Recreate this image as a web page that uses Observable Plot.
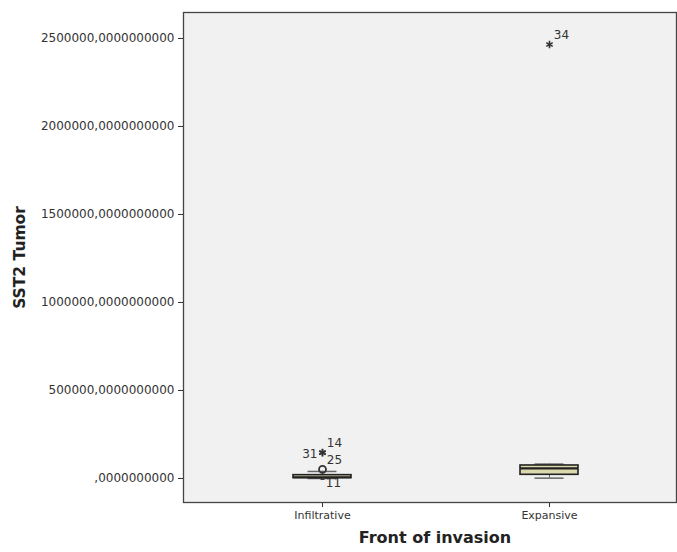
<!DOCTYPE html>
<html>
<head>
<meta charset="utf-8">
<script src="https://cdn.jsdelivr.net/npm/d3@7"></script>
<script src="https://cdn.jsdelivr.net/npm/@observablehq/plot@0.6"></script>
<style>
  html, body { margin: 0; padding: 0; background: #fff; overflow: hidden; }
</style>
</head>
<body>
<div id="chart"></div>
<script>
// Box plot of SST2 tumour levels by front of invasion
const groups = ["Infiltrative", "Expansive"];
const lowerWhisker = [0, 2000];
const q1 = [2000, 21000];
const median = [7000, 58000];
const q3 = [19000, 74000];
const upperWhisker = [40000, 82000];

// Outlying cases (circle = outlier, star = extreme)
const outlierCase = ["11", "25", "14", "31", "34"];
const outlierGroup = ["Infiltrative", "Infiltrative", "Infiltrative", "Infiltrative", "Expansive"];
const outlierValue = [9000, 52000, 148000, 146000, 2466000];
const outlierKind = ["circle", "circle", "star", "star", "star"];

const yTicks = [0, 500000, 1000000, 1500000, 2000000, 2500000];
const xTitle = "Front of invasion";
const yTitle = "SST2 Tumor";

const boxes = groups.map((g, i) => ({
  group: g, lo: lowerWhisker[i], q1: q1[i], med: median[i], q3: q3[i], hi: upperWhisker[i]
}));
const outliers = outlierCase.map((c, i) => ({
  id: c, group: outlierGroup[i], value: outlierValue[i], kind: outlierKind[i]
}));

const fmt = v => (v === 0 ? "" : String(v)) + ",0000000000";
const ink = "#333";

const chart = Plot.plot({
  width: 677,
  height: 552,
  marginLeft: 183,
  marginRight: 1,
  marginTop: 12,
  marginBottom: 50,
  style: { fontFamily: "DejaVu Sans", color: ink, background: "#fff" },
  x: {
    type: "band",
    domain: groups,
    range: [183, 688],
    paddingInner: 0.744,
    paddingOuter: 0.484
  },
  y: { domain: [-136364, 2647727] },
  marks: [
    Plot.frame({ fill: "#f1f1f1", stroke: null }),
    Plot.axisY({ ticks: yTicks, tickFormat: fmt, tickSize: 5, tickPadding: 4, fontSize: 12, label: null }),
    Plot.axisX({ tickSize: 5, tickPadding: 4, fontSize: 11, label: null }),
    // outlier lying within the lower box
    Plot.dot(outliers.filter(d => d.kind === "circle" && d.id === "11"), {
      x: "group", y: "value", r: 2.5, stroke: ink, strokeWidth: 1.2, fill: "none"
    }),
    // whiskers
    Plot.ruleX(boxes, { x: "group", y1: "lo", y2: "q1", stroke: "#666" }),
    Plot.ruleX(boxes, { x: "group", y1: "q3", y2: "hi", stroke: "#666" }),
    Plot.tickY(boxes, { x: "group", y: "lo", insetLeft: 14.5, insetRight: 14.5, stroke: "#666", strokeWidth: 1.5 }),
    Plot.tickY(boxes, { x: "group", y: "hi", insetLeft: 14.5, insetRight: 14.5, stroke: "#666", strokeWidth: 1.5 }),
    // boxes and medians
    Plot.barY(boxes, { x: "group", y1: "q1", y2: "q3", fill: "#dcd8ad", stroke: "#222", strokeWidth: 1.6 }),
    Plot.tickY(boxes, { x: "group", y: "med", stroke: "#222", strokeWidth: 2.2 }),
    // outliers and extremes
    Plot.dot(outliers.filter(d => d.kind === "circle" && d.id !== "11"), {
      x: "group", y: "value", r: 3.5, stroke: ink, strokeWidth: 1.8, fill: "none"
    }),
    Plot.dot(outliers.filter(d => d.kind === "star"), {
      x: "group", y: "value", symbol: "asterisk", r: 3.5, stroke: ink, strokeWidth: 1.6
    }),
    // case labels
    Plot.text(outliers.filter(d => ["14", "25", "34"].includes(d.id)), {
      x: "group", y: "value", text: "id", dx: 12, dy: -9, fontSize: 12, fill: ink
    }),
    Plot.text(outliers.filter(d => d.id === "11"), {
      x: "group", y: "value", text: "id", dx: 11, dy: 6, fontSize: 12, fill: ink
    }),
    Plot.text(outliers.filter(d => d.id === "31"), {
      x: "group", y: "value", text: "id", dx: -5, dy: 1, textAnchor: "end", fontSize: 12, fill: ink
    }),
    // axis titles
    Plot.text([xTitle], {
      frameAnchor: "bottom", text: d => d, dx: 5, dy: 40, fontSize: 16, fontWeight: "bold", fill: "#222"
    }),
    Plot.text([yTitle], {
      frameAnchor: "left", text: d => d, rotate: -90, textAnchor: "middle", dx: -163, fontSize: 15.5, fontWeight: "bold", fill: "#222"
    }),
    Plot.frame({ stroke: "#444", strokeWidth: 1.3 })
  ]
});

document.getElementById("chart").appendChild(chart);
</script>
</body>
</html>
